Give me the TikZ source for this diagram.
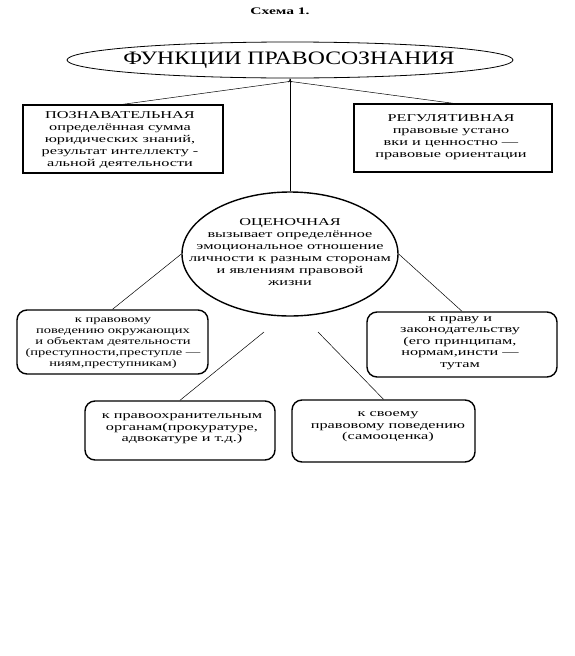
\documentclass[tikz,border=0pt]{standalone}
\usepackage{fontspec}
\setmainfont{Liberation Serif}
\newfontfamily\widefont[FakeStretch=1.55]{Liberation Serif}
\newfontfamily\narrowfont[FakeStretch=1.45]{Liberation Serif}
\newfontfamily\titlefont[FakeStretch=1.25]{Liberation Serif}
\usetikzlibrary{shapes.geometric,arrows.meta}
\tikzset{
  txt/.style={align=center, inner sep=0pt, font=\widefont\fontsize{10.5}{12}\selectfont},
  rtxt/.style={txt, font=\widefont\fontsize{10.5}{11.5}\selectfont},
  sqbox/.style={draw, line width=1.4pt, inner sep=0pt},
  rbox/.style={draw, line width=1.4pt, rounded corners=10pt, inner sep=0pt},
  conn/.style={line width=0.5pt},
}
\begin{document}
\begin{tikzpicture}[x=1pt,y=-1pt]
\useasboundingbox (0,0) rectangle (575,656);
\node[font=\widefont\bfseries\fontsize{10}{12}\selectfont] (hdr) at (280,11) {Схема 1.};
\node[ellipse, draw, line width=0.8pt, minimum width=446pt, minimum height=36pt, inner sep=0pt] (title) at (290,60) {};
\node[font=\titlefont\fontsize{19}{20}\selectfont, inner sep=0pt] (titlet) at (289,60) {ФУНКЦИИ ПРАВОСОЗНАНИЯ};
\node[sqbox, minimum width=200pt, minimum height=68pt] (lbox) at (123,139) {};
\node[txt] (lboxt) at (120,140)
  {ПОЗНАВАТЕЛЬНАЯ\\определённая сумма\\юридических знаний,\\результат интеллекту -\\альной деятельности};
\node[sqbox, minimum width=198pt, minimum height=68pt] (rbox) at (453,138) {};
\node[txt] (rboxt) at (451,137)
  {РЕГУЛЯТИВНАЯ\\правовые устано\\вки и ценностно —\\правовые ориентации};
\node[ellipse, draw, line width=1.4pt, minimum width=216pt, minimum height=124pt, inner sep=0pt] (oval) at (290,254) {};
\node[txt] (ovalt) at (290,252)
  {ОЦЕНОЧНАЯ\\вызывает определённое\\эмоциональное отношение\\личности к разным сторонам\\и явлениям правовой\\жизни};
\node[rbox, minimum width=191pt, minimum height=64pt] (lm) at (112.5,342) {};
\node[rtxt, font=\narrowfont\fontsize{10}{11}\selectfont] (lmt) at (113,343)
  {к правовому\\поведению окружающих\\и объектам деятельности\\(преступности,преступле —\\ниям,преступникам)};
\node[rbox, minimum width=190pt, minimum height=65pt] (rm) at (462,344.5) {};
\node[rtxt] (rmt) at (460,343)
  {к праву и\\законодательству\\(его принципам,\\нормам,инсти —\\тутам};
\node[rbox, minimum width=190pt, minimum height=59pt] (bl) at (180,430.5) {};
\node[rtxt] (blt) at (182,429)
  {к правоохранительным\\органам(прокуратуре,\\адвокатуре и т.д.)};
\node[rbox, minimum width=183pt, minimum height=62pt] (br) at (383.5,431) {};
\node[rtxt] (brt) at (388,427)
  {к своему\\правовому поведению\\(самооценка)};
\coordinate (ol) at (264,332);
\coordinate (or) at (318,332);
\draw[conn] (lbox.north) -- ([yshift=-3pt]title.south);
\draw[conn] ([yshift=-3pt]title.south) -- (rbox.north);
\draw[conn, -{To[length=4pt,width=4pt]}] (oval.north) -- (title.south);
\draw[conn] (oval.west) -- (lm.north);
\draw[conn] (oval.east) -- (rm.north);
\draw[conn] (ol) -- (bl.north);
\draw[conn] (or) -- (br.north);
\end{tikzpicture}
\end{document}
